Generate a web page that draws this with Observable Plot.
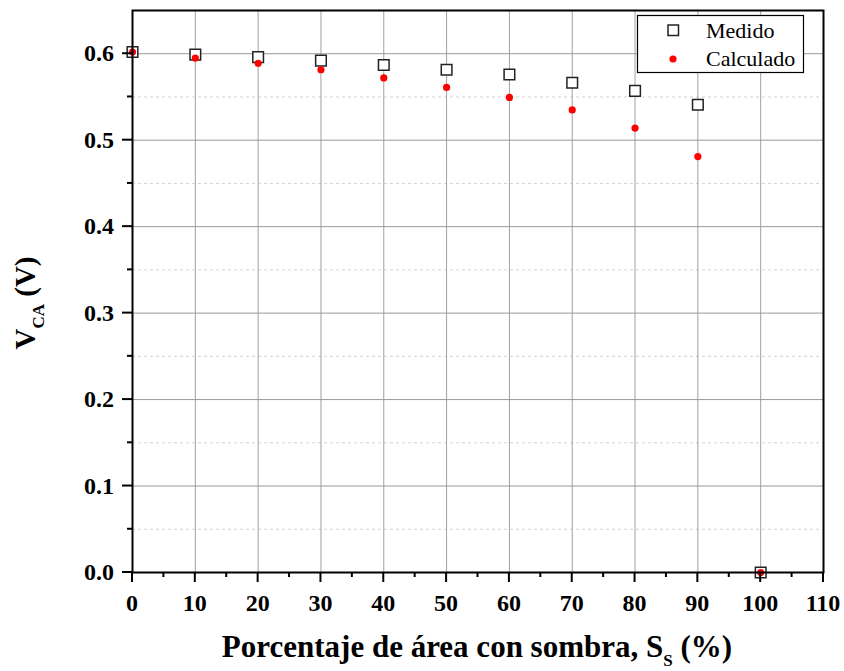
<!DOCTYPE html>
<html><head><meta charset="utf-8">
<script src="https://cdn.jsdelivr.net/npm/d3@7"></script>
<script src="https://cdn.jsdelivr.net/npm/@observablehq/plot@0.6"></script>
<style>
body{margin:0;background:#fff}
#chart{position:relative;width:844px;height:671px}
#chart svg text{font-family:"Liberation Serif","Times New Roman",serif !important;}
</style>
</head><body><div id="chart"></div>
<script>
const shade = [0, 10, 20, 30, 40, 50, 60, 70, 80, 90, 100];
const medido = [0.602, 0.599, 0.596, 0.592, 0.587, 0.5815, 0.576, 0.5665, 0.557, 0.541, 0.0];
const calculado = [0.602, 0.595, 0.589, 0.5815, 0.572, 0.561, 0.5495, 0.535, 0.514, 0.481, 0.0];
const seriesNames = ["Medido", "Calculado"];
const xTicks = [0, 10, 20, 30, 40, 50, 60, 70, 80, 90, 100, 110];
const xMinor = [5, 15, 25, 35, 45, 55, 65, 75, 85, 95, 105];
const yTicks = [0.0, 0.1, 0.2, 0.3, 0.4, 0.5, 0.6];
const yMinor = [0.05, 0.15, 0.25, 0.35, 0.45, 0.55];
const xTitle = ["Porcentaje de área con sombra, S", "S", " (%)"];
const yTitle = ["V", "CA", " (V)"];

const medData = shade.map((x, i) => ({x, y: medido[i]}));
const calData = shade.map((x, i) => ({x, y: calculado[i]}));
const FONT = '"Liberation Serif", "Times New Roman", serif';

const plot = Plot.plot({
  width: 844, height: 671,
  marginLeft: 132, marginRight: 21, marginTop: 10, marginBottom: 99,
  style: {fontFamily: FONT, background: "white", color: "black"},
  x: {domain: [0, 110], axis: null},
  y: {domain: [0, 0.65], axis: null},
  marks: [
    Plot.gridY(yMinor, {stroke: "#d4d4d4", strokeOpacity: 1, strokeDasharray: "3,3"}),
    Plot.gridX(xTicks.filter(d => d > 0 && d < 110), {stroke: "#a0a0a0", strokeOpacity: 1}),
    Plot.gridY(yTicks.filter(d => d > 0), {stroke: "#999", strokeOpacity: 1}),
    Plot.dot(medData, {x: "x", y: "y", symbol: "square", r: 6, stroke: "#222", strokeWidth: 1.5, fill: "white"}),
    Plot.dot(calData, {x: "x", y: "y", r: 3.6, fill: "#ff0000", stroke: "none"}),
    Plot.frame({stroke: "black", strokeWidth: 2})
  ]
});
document.getElementById("chart").appendChild(plot);

const svg = d3.select(plot);
const xs = plot.scale("x"), ys = plot.scale("y");
const x0 = xs.apply(0), y0 = ys.apply(0);

// tick marks
const tk = svg.append("g").attr("stroke", "black").attr("stroke-width", 2);
xTicks.forEach(v => tk.append("line").attr("x1", xs.apply(v)).attr("x2", xs.apply(v)).attr("y1", y0).attr("y2", y0 + 10));
xMinor.forEach(v => tk.append("line").attr("x1", xs.apply(v)).attr("x2", xs.apply(v)).attr("y1", y0).attr("y2", y0 + 5));
yTicks.forEach(v => tk.append("line").attr("y1", ys.apply(v)).attr("y2", ys.apply(v)).attr("x1", x0).attr("x2", x0 - 10));
yMinor.forEach(v => tk.append("line").attr("y1", ys.apply(v)).attr("y2", ys.apply(v)).attr("x1", x0).attr("x2", x0 - 5));

// tick labels
const tl = svg.append("g").attr("font-size", 24).attr("font-weight", "bold").attr("fill", "black");
xTicks.forEach(v => tl.append("text").attr("x", xs.apply(v)).attr("y", y0 + 39)
  .attr("text-anchor", "middle").text(String(v)));
yTicks.forEach(v => tl.append("text").attr("x", x0 - 18).attr("y", ys.apply(v) + 8)
  .attr("text-anchor", "end").text(d3.format(".1f")(v)));

// x title
const xt = svg.append("text")
  .attr("x", 477).attr("y", 657)
  .attr("text-anchor", "middle")
  .attr("font-weight", "bold").attr("font-size", 31)
  .attr("fill", "black");
xt.append("tspan").text(xTitle[0]);
xt.append("tspan").attr("font-size", 17).attr("dy", 9).text(xTitle[1]);
xt.append("tspan").attr("dy", -9).text(xTitle[2]);

// y title
const yt = svg.append("text")
  .attr("transform", "translate(35,303) rotate(-90)")
  .attr("text-anchor", "middle")
  .attr("font-weight", "bold").attr("font-size", 29)
  .attr("fill", "black");
yt.append("tspan").text(yTitle[0]);
yt.append("tspan").attr("font-size", 17).attr("dy", 9).text(yTitle[1]);
yt.append("tspan").attr("dy", -9).text(yTitle[2]);

// legend
const lg = svg.append("g");
lg.append("rect").attr("x", 637.5).attr("y", 15.5).attr("width", 166).attr("height", 57)
  .attr("fill", "white").attr("stroke", "black").attr("stroke-width", 1.2);
lg.append("rect").attr("x", 668).attr("y", 25).attr("width", 10.5).attr("height", 10.5)
  .attr("fill", "white").attr("stroke", "#222").attr("stroke-width", 1.5);
lg.append("circle").attr("cx", 673).attr("cy", 59).attr("r", 3.6).attr("fill", "#ff0000");
lg.append("text").attr("x", 706).attr("y", 37.5).attr("text-anchor", "start").attr("font-size", 22).attr("fill", "black").text(seriesNames[0]);
lg.append("text").attr("x", 706).attr("y", 65.5).attr("text-anchor", "start").attr("font-size", 22).attr("fill", "black").text(seriesNames[1]);
</script>
</body></html>
